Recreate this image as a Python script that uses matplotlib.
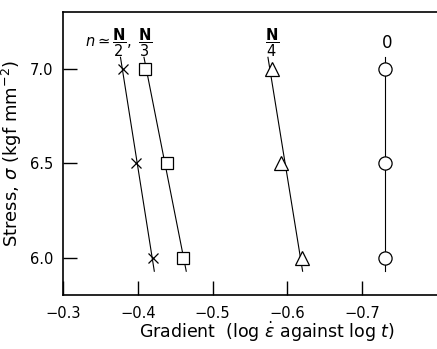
import numpy as np
import matplotlib
matplotlib.use("Agg")
import matplotlib.pyplot as plt

stress = [7.0, 6.5, 6.0]
grad_n2 = [-0.380, -0.398, -0.420]
grad_n3 = [-0.410, -0.439, -0.460]
grad_n4 = [-0.579, -0.592, -0.620]
grad_n0 = [-0.731, -0.731, -0.731]
line_span = [5.93, 7.06]

xticks = [-0.3, -0.4, -0.5, -0.6, -0.7]
yticks = [6.0, 6.5, 7.0]

fig = plt.figure(figsize=(4.37, 3.49), dpi=100)
ax = fig.add_axes([0.144, 0.155, 0.856, 0.811])

series = [
    (grad_n2, 'x', 7),
    (grad_n3, 's', 8.5),
    (grad_n4, '^', 9.5),
    (grad_n0, 'o', 9.5),
]
ys = np.array(line_span)
for g, m, ms in series:
    coef = np.polyfit(stress, g, 1)
    ax.plot(np.polyval(coef, ys), ys, color='black', lw=0.8, zorder=2)
    ax.plot(g, stress, linestyle='none', marker=m, markersize=ms,
            markerfacecolor='white', markeredgecolor='black',
            markeredgewidth=0.9, zorder=3)

ax.set_xlim(-0.3, -0.8)
ax.set_ylim(5.805, 7.30)
ax.set_xticks(xticks)
ax.set_xticklabels(['\u22120.3', '\u22120.4', '\u22120.5', '\u22120.6', '\u22120.7'])
ax.set_yticks(yticks)
ax.set_yticklabels(['6.0', '6.5', '7.0'])
ax.tick_params(direction='in', length=10, width=1.0, labelsize=10.5)
ax.tick_params(axis='x', pad=8)
ax.tick_params(axis='y', pad=7)
ax.spines['right'].set_visible(False)
for s in ['left', 'bottom', 'top']:
    ax.spines[s].set_linewidth(1.2)

ax.set_xlabel(r'Gradient  (log $\dot{\varepsilon}$ against log $t$)', fontsize=12.5)
ax.xaxis.set_label_coords(0.545, -0.088)
ax.set_ylabel(r'Stress, $\sigma$ (kgf mm$^{-2}$)', fontsize=13)
ax.yaxis.set_label_coords(-0.105, 0.5)

ax.text(-0.329, 7.135, r'$n\simeq\dfrac{\mathbf{N}}{2},\ \dfrac{\mathbf{N}}{3}$',
        fontsize=10.5, ha='left', va='center')
ax.text(-0.580, 7.135, r'$\dfrac{\mathbf{N}}{4}$', fontsize=10.5, ha='center', va='center')
ax.text(-0.733, 7.137, '0', fontsize=12, ha='center', va='center')

fig.savefig('out.png', dpi=100)
